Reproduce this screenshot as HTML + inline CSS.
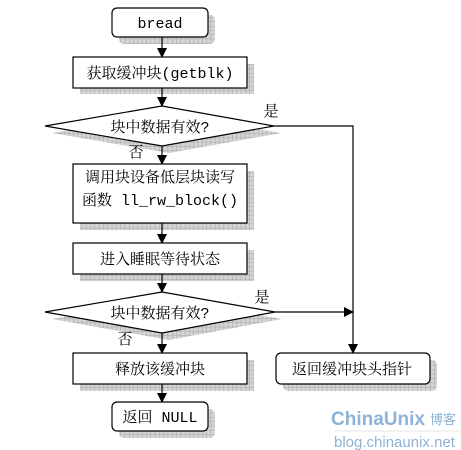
<!DOCTYPE html>
<html><head><meta charset="utf-8"><style>
html,body{margin:0;padding:0;background:#fff;}
svg{display:block;}
text{font-family:"Liberation Mono","Noto Serif CJK SC",serif;font-size:15px;fill:#000;font-weight:normal;}
</style></head><body>
<svg width="461" height="450" viewBox="0 0 461 450" xmlns="http://www.w3.org/2000/svg">
<defs>
<pattern id="g" width="4.3" height="4.3" patternUnits="userSpaceOnUse">
<rect width="4.3" height="4.3" fill="#d4d4d4"/>
<path d="M0 0H4.3M0 0V4.3" stroke="#9a9a9a" stroke-width="0.8"/>
</pattern>
<marker id="a" markerWidth="10" markerHeight="10" refX="9" refY="5" orient="auto" markerUnits="userSpaceOnUse">
<path d="M0 0L10 5L0 10Z" fill="#000"/>
</marker>
</defs>
<rect x="119" y="15" width="96" height="29" rx="5" fill="url(#g)"/>
<rect x="80" y="64" width="174" height="30" fill="url(#g)"/>
<polygon points="52,133 169,113 281,133 169,153" fill="url(#g)"/>
<rect x="80" y="171" width="174" height="59" fill="url(#g)"/>
<rect x="80" y="250" width="174" height="31" fill="url(#g)"/>
<polygon points="52,319 169,299 282,319 169,340" fill="url(#g)"/>
<rect x="80" y="360" width="174" height="31" fill="url(#g)"/>
<rect x="283" y="360" width="154" height="31" rx="5" fill="url(#g)"/>
<rect x="119" y="409" width="96" height="29" rx="5" fill="url(#g)"/>
<g stroke="#000" stroke-width="1.2" fill="none">
<line x1="162" y1="37" x2="162" y2="57" marker-end="url(#a)"/>
<line x1="162" y1="88" x2="162" y2="106" marker-end="url(#a)"/>
<line x1="162" y1="146" x2="162" y2="164" marker-end="url(#a)"/>
<line x1="162" y1="223" x2="162" y2="243" marker-end="url(#a)"/>
<line x1="162" y1="274" x2="162" y2="292" marker-end="url(#a)"/>
<line x1="162" y1="333" x2="162" y2="353" marker-end="url(#a)"/>
<line x1="162" y1="384" x2="162" y2="402" marker-end="url(#a)"/>
<polyline points="274,126 353,126 353,353" marker-end="url(#a)"/>
<line x1="275" y1="312" x2="353" y2="312" marker-end="url(#a)"/>
</g>
<g stroke="#000" stroke-width="1.2" fill="#fff">
<rect x="112" y="8" width="96" height="29" rx="5"/>
<rect x="73" y="57" width="174" height="31"/>
<polygon points="45,126 162,106 274,126 162,146"/>
<rect x="73" y="164" width="174" height="59"/>
<rect x="73" y="243" width="174" height="31"/>
<polygon points="45,312 162,292 275,312 162,333"/>
<rect x="73" y="353" width="174" height="31"/>
<rect x="276" y="353" width="154" height="31" rx="5"/>
<rect x="112" y="402" width="96" height="29" rx="5"/>
</g>
<g text-anchor="middle">
<text x="160" y="28">bread</text>
<text x="160" y="78">获取缓冲块(getblk)</text>
<text x="160" y="132">块中数据有效?</text>
<text x="160" y="182">调用块设备低层块读写</text>
<text x="160" y="205">函数 ll_rw_block()</text>
<text x="160" y="264">进入睡眠等待状态</text>
<text x="160" y="318">块中数据有效?</text>
<text x="160" y="374">释放该缓冲块</text>
<text x="352" y="374">返回缓冲块头指针</text>
<text x="160" y="422">返回 NULL</text>
<text x="271" y="116">是</text>
<text x="136" y="157">否</text>
<text x="262" y="302">是</text>
<text x="125" y="344">否</text>
</g>
<text x="331" y="425" style="font-family:'Liberation Sans',sans-serif;font-size:19px;font-weight:bold;fill:#8db3d6;">ChinaUnix</text>
<text x="430" y="424" style="font-family:'Noto Sans CJK SC',sans-serif;font-size:13px;fill:#8db3d6;">博客</text>
<line x1="335" y1="431" x2="460" y2="431" stroke="#e6e6e6"/>
<text x="334" y="447" style="font-family:'Liberation Sans',sans-serif;font-size:15px;fill:#8db3d6;">blog.chinaunix.net</text>
</svg>
</body></html>
